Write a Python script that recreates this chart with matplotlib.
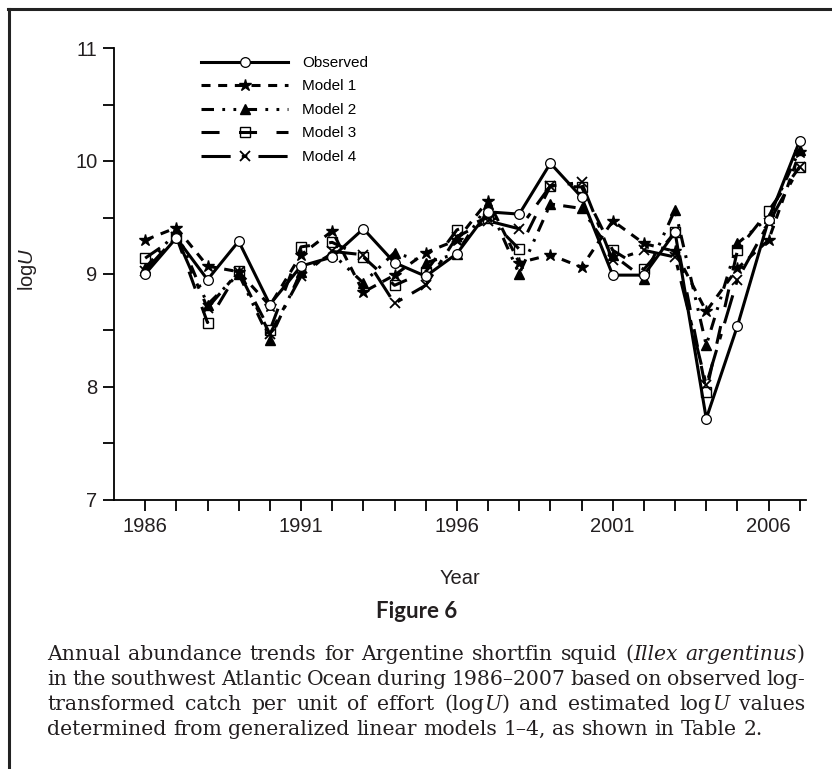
import numpy as np
import matplotlib as mpl
mpl.use('Agg')
import matplotlib.pyplot as plt


# Data (log U per year)
years = np.arange(1986, 2008)
observed = [9.00, 9.32, 8.95, 9.29, 8.73, 9.07, 9.15, 9.40, 9.10, 8.98, 9.18,
            9.55, 9.53, 9.98, 9.68, 8.99, 8.99, 9.37, 7.72, 8.54, 9.48, 10.18]
model1 = [9.30, 9.41, 9.07, 9.02, 8.72, 9.17, 9.38, 8.84, 8.99, 9.19, 9.30,
          9.65, 9.10, 9.17, 9.06, 9.47, 9.27, 9.20, 8.67, 9.05, 9.30, 10.08]
model2 = [9.05, 9.38, 8.73, 9.00, 8.42, 9.02, 9.18, 8.92, 9.19, 9.10, 9.18,
          9.62, 9.00, 9.62, 9.58, 9.17, 8.96, 9.57, 8.37, 9.27, 9.50, 10.10]
model3 = [9.14, 9.33, 8.57, 9.03, 8.50, 9.24, 9.28, 9.15, 8.90, 9.02, 9.39,
          9.50, 9.22, 9.78, 9.77, 9.21, 9.04, 9.37, 7.96, 9.21, 9.56, 9.95]
model4 = [9.03, 9.33, 8.70, 9.02, 8.47, 8.98, 9.20, 9.17, 8.74, 8.90, 9.33,
          9.47, 9.40, 9.78, 9.81, 9.12, 9.21, 9.15, 8.02, 8.95, 9.45, 9.95]
labels = ['Observed', 'Model 1', 'Model 2', 'Model 3', 'Model 4']

fig_title = 'Figure 6'
# caption lines, text between '*' is italic
caption = [
  'Annual abundance trends for Argentine shortfin squid (*Illex* *argentinus*)',
  'in the southwest Atlantic Ocean during 1986\u20132007 based on observed log-',
  'transformed catch per unit of effort (log*U*) and estimated log*U* values',
  'determined from generalized linear models 1\u20134, as shown in Table 2.',
]

W, H = 832, 769
INK = '#231f20'

plt.rcParams['font.family'] = ['Liberation Sans', 'DejaVu Sans']
plt.rcParams['mathtext.fontset'] = 'custom'
plt.rcParams['mathtext.rm'] = 'Liberation Sans'
plt.rcParams['mathtext.it'] = 'Liberation Sans:italic'
plt.rcParams['lines.scale_dashes'] = False


def parse_word(w):
  # split a word on '*' markers: odd parts are italic
  parts = w.split('*')
  return [(p, i % 2 == 1) for i, p in enumerate(parts) if p]


def draw_caption_line(fig, r, line, x0, x1, y, size, justify):
  words = [parse_word(w) for w in line.split(' ')]
  texts = []
  widths = []
  for wd in words:
    wt = []
    ww = 0.0
    for s, it in wd:
      t = fig.text(0, 0, s, fontsize=size, family='DejaVu Serif',
                   style='italic' if it else 'normal', color=INK,
                   va='baseline', ha='left')
      w = t.get_window_extent(renderer=r).width
      wt.append((t, w))
      ww += w
    texts.append(wt)
    widths.append(ww)
  sp_nat = 0.32 * size * 100 / 72
  if justify and len(words) > 1:
    sp = ((x1 - x0) - sum(widths)) / (len(words) - 1)
  else:
    sp = sp_nat
  x = x0
  for wt, ww in zip(texts, widths):
    xx = x
    for t, w in wt:
      t.set_position((xx / W, 1 - y / H))
      xx += w
    x += ww + sp
  return x - sp


fig = plt.figure(figsize=(W / 100, H / 100), dpi=100)
ax = fig.add_axes([114 / W, 1 - 500 / H, (806 - 114) / W, 452 / H])

lw = 2.2
ax.plot(years, model1, color='black', lw=lw, ls=(0, (6.5, 5.5)),
        marker='*', ms=9, mfc='black', mec='black', label=labels[1], zorder=3)
ax.plot(years, model2, color='black', lw=lw, ls=(0, (9, 6, 2, 6, 2, 6)),
        marker='^', ms=7, mfc='black', mec='black', label=labels[2], zorder=3)
ax.plot(years, model3, color='black', lw=lw, ls=(0, (13, 14)),
        marker='s', ms=7, mfc='none', mec='black', mew=1.0, label=labels[3], zorder=3)
ax.plot(years, model4, color='black', lw=lw, ls=(0, (21, 8, 4, 8)),
        marker='x', ms=7.5, mec='black', mew=1.3, label=labels[4], zorder=3)
ax.plot(years, observed, color='black', lw=lw, ls='-',
        marker='o', ms=7, mfc='white', mec='black', mew=0.9, label=labels[0], zorder=4)

ax.set_xlim(1985, 2007.2)
ax.set_ylim(7, 11)
ax.set_xticks(np.arange(1986, 2007, 5))
ax.set_xticks(years, minor=True)
ax.set_yticks(np.arange(7, 12, 1))
ax.set_yticks(np.arange(7.5, 11, 1), minor=True)
ax.spines['top'].set_visible(False)
ax.spines['right'].set_visible(False)
for s in ['left', 'bottom']:
  ax.spines[s].set_linewidth(1.3)
ax.tick_params(which='both', direction='out', length=8, width=1.3, color='black')
ax.tick_params(which='major', labelsize=14.5, pad=4, labelcolor=INK)

ax.set_xlabel('Year', fontsize=14.5, color=INK)
ax.xaxis.set_label_coords(0.5, -0.152)
ax.set_ylabel(r'log$\mathit{U}$', fontsize=14.5, color=INK)
ax.yaxis.set_label_coords(-0.108, 0.51)

# legend, Observed first
h, l = ax.get_legend_handles_labels()
order = [4, 0, 1, 2, 3]
ax.legend([h[i] for i in order], [l[i] for i in order], loc='upper left',
          bbox_to_anchor=((201 - 114) / 692, (500 - 56) / 452), bbox_transform=ax.transAxes,
          frameon=False, fontsize=11, numpoints=1, handlelength=5.7, handletextpad=0.9,
          labelspacing=0.62, borderpad=0, borderaxespad=0)

# outer frame (left and top)
fig.add_artist(plt.Line2D([9 / W, 9 / W], [0, 1 - 9 / H], color='#222222', lw=2.2,
                          transform=fig.transFigure))
fig.add_artist(plt.Line2D([8 / W, 1], [1 - 9 / H, 1 - 9 / H], color='#222222', lw=2.2,
                          transform=fig.transFigure))

fig.text(417 / W, 1 - 612 / H, fig_title, fontsize=16, family='Lato', weight='bold',
         color=INK, ha='center', va='center')

# caption, sized so the last line fits its natural width
r = fig.canvas.get_renderer()
probe = fig.text(0, 0, caption[3].replace('*', ''), fontsize=13, family='DejaVu Serif')
size = 13 * 713 / probe.get_window_extent(renderer=r).width
probe.remove()
ys = [660, 685, 710, 735]
for i, line in enumerate(caption):
  draw_caption_line(fig, r, line, 47, 805, ys[i], size, justify=(i < 3))

fig.savefig('out.png', dpi=100)
